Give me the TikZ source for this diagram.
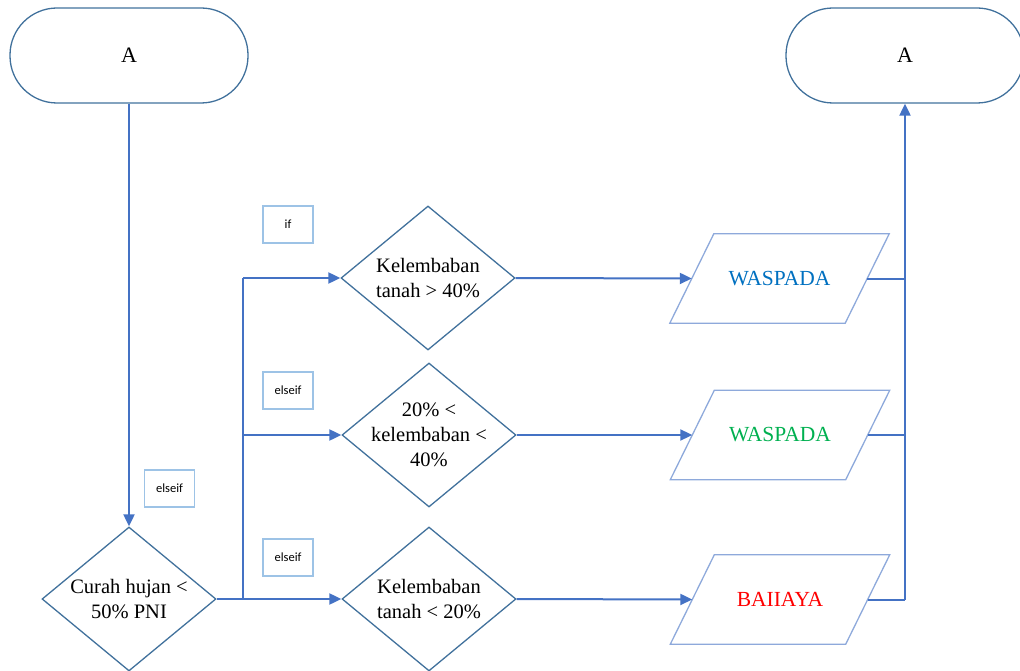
\documentclass[tikz,border=0pt]{standalone}
\usepackage{fontspec}
\setmainfont{Liberation Serif}
\newfontfamily\lblfont{Carlito}
\usetikzlibrary{shapes.geometric,arrows.meta}
\definecolor{conn}{HTML}{4472C4}
\definecolor{shp}{HTML}{41719C}
\definecolor{parac}{HTML}{8EA9DB}
\definecolor{lblc}{HTML}{9DC3E6}
\definecolor{wblue}{HTML}{0070C0}
\definecolor{wgreen}{HTML}{00B050}
\definecolor{wred}{HTML}{FF0000}
\begin{document}
\begin{tikzpicture}[x=1pt,y=-1pt,
  term/.style={draw=shp,line width=1.3pt,rectangle,rounded corners=47pt,minimum width=238pt,minimum height=95pt,inner sep=0pt,font=\fontsize{22}{25}\selectfont},
  dia/.style={draw=shp,line width=1.3pt,diamond,minimum width=174pt,minimum height=144pt,inner sep=0pt},
  dtext/.style={align=center,font=\fontsize{20.5}{25}\selectfont,inner sep=0pt},
  parabox/.style={rectangle,minimum width=175pt,minimum height=89pt,inner sep=0pt,font=\fontsize{21.5}{25}\selectfont},
  paraline/.style={draw=parac,line width=1.3pt},
  lbl/.style={draw=lblc,line width=1.5pt,rectangle,minimum width=50pt,minimum height=37pt,inner sep=0pt,font=\lblfont\fontsize{12.5}{14}\selectfont},
  cn/.style={draw=conn,line width=2pt},
  arr/.style={cn,-{Triangle[length=12pt,width=11pt]}}
]
\useasboundingbox (0,0) rectangle (1020,671);
% terminals
\node[term] (a1) at (129,55.5) {A};
\node[term] (a2) at (905,55.5) {A};
% main decision
\node[dia] (c) at (129,599) {};
\node[dtext] at (c) {Curah hujan <\\50\% PNI};
% branch decisions
\node[dia] (d1) at (428,278) {};
\node[dtext] at (d1) {Kelembaban\\tanah > 40\%};
\node[dia] (d2) at (429,435) {};
\node[dtext] at (d2) {20\% <\\kelembaban <\\40\%};
\node[dia] (d3) at (429,599) {};
\node[dtext] at (d3) {Kelembaban\\tanah < 20\%};
% outputs
\node[parabox,text=wblue] (p1) at (779.5,278.5) {WASPADA};
\node[parabox,text=wgreen] (p2) at (780,435) {WASPADA};
\node[parabox,text=wred] (p3) at (780,599.5) {BAIIAYA};
\foreach \p in {p1,p2,p3}{
  \draw[paraline] ([xshift=22pt]\p.north west) -- ([xshift=22pt]\p.north east) -- ([xshift=-22pt]\p.south east) -- ([xshift=-22pt]\p.south west) -- cycle;
}
% labels
\node[lbl] (l1) at (288,224.5) {if};
\node[lbl] (l2) at (288,390.5) {elseif};
\node[lbl] (l3) at (169.5,488.5) {elseif};
\node[lbl] (l4) at (288,557.5) {elseif};
% junction coordinates
\coordinate (j1) at (243,278);
\coordinate (j2) at (243,435);
\coordinate (j3) at (243,599);
\coordinate (r1) at (905,278.5);
\coordinate (r2) at (905,435);
\coordinate (r3) at (905,599.5);
% connectors
\draw[arr] (a1.south) -- (c.north);
\draw[cn] (c.east) -- (j3);
\draw[cn] (j1) -- (j3);
\draw[arr] (j1) -- (d1.west);
\draw[arr] (j2) -- (d2.west);
\draw[arr] (j3) -- (d3.west);
\draw[arr] (d1.east) -- (p1.west);
\draw[arr] (d2.east) -- (p2.west);
\draw[arr] (d3.east) -- (p3.west);
\draw[cn] (p1.east) -- (r1);
\draw[cn] (p2.east) -- (r2);
\draw[cn] (p3.east) -- (r3);
\draw[arr] (r3) -- (a2.south);
\end{tikzpicture}
\end{document}
